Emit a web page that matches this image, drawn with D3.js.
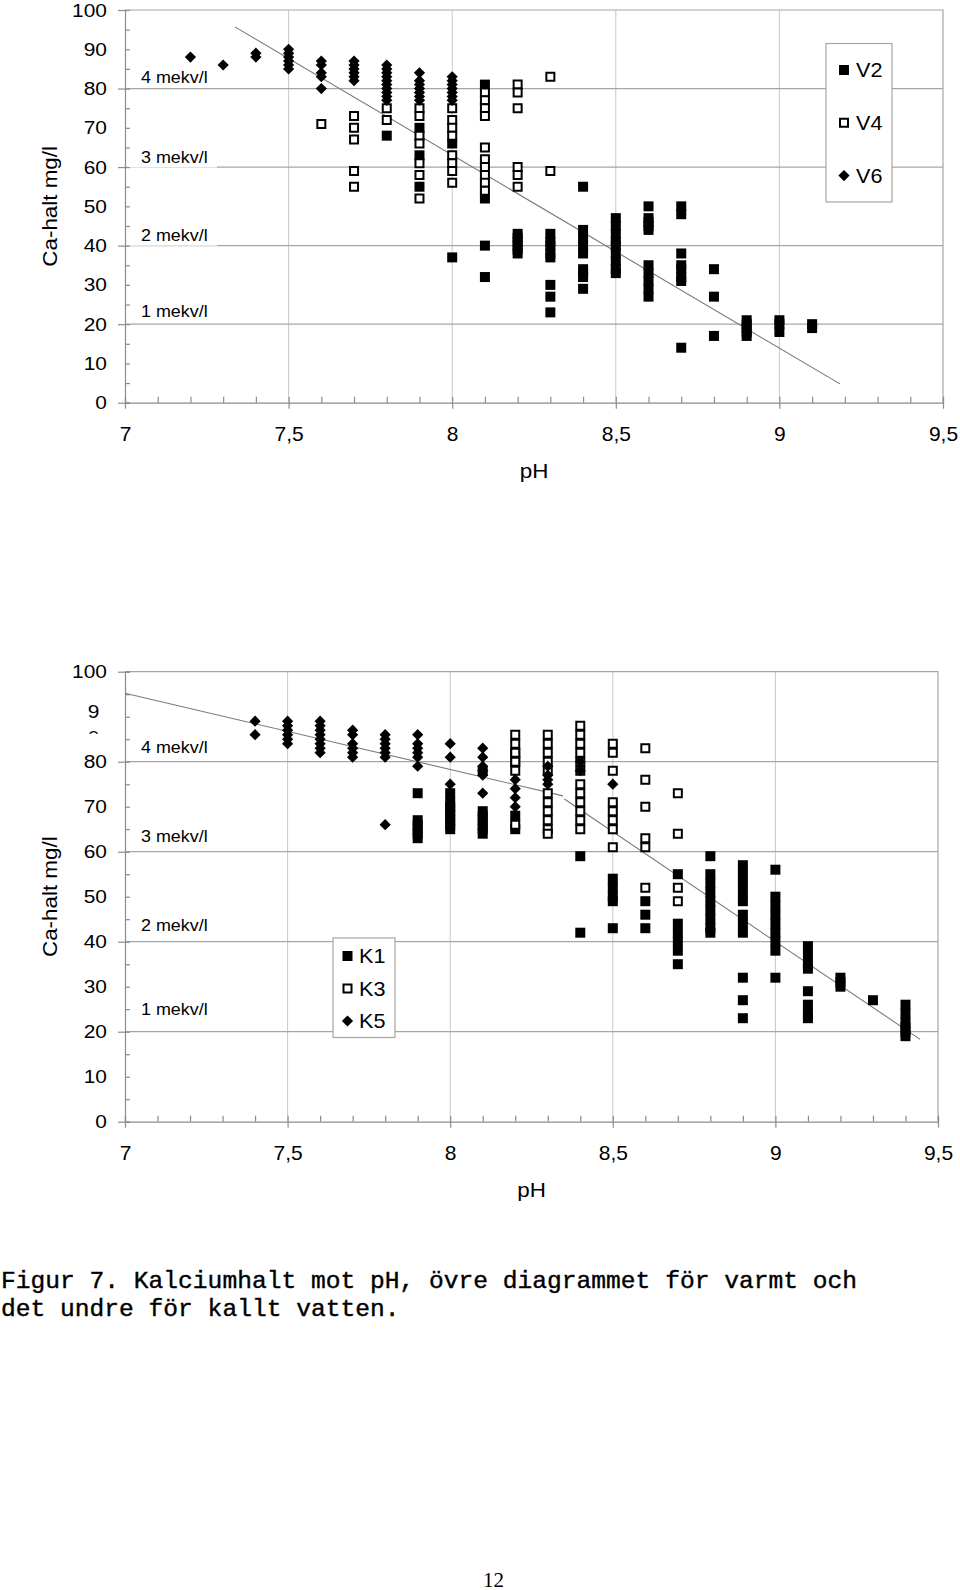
<!DOCTYPE html>
<html><head><meta charset="utf-8">
<script src="https://cdn.jsdelivr.net/npm/d3@7"></script>
<style>body{margin:0;background:#fff}svg{display:block}</style>
</head><body>
<svg id="c" width="960" height="1590"></svg>
<script>
// ---------- DATA ----------
const phTicks = [7, 7.5, 8, 8.5, 9, 9.5];
const phTickLabels = ["7", "7,5", "8", "8,5", "9", "9,5"];
const caTicks = [0, 10, 20, 30, 40, 50, 60, 70, 80, 90, 100];
const mekvLevels = [20, 40, 60, 80];
const mekvLabels = ["1 mekv/l", "2 mekv/l", "3 mekv/l", "4 mekv/l"];
const topMekvLabelCa = [23.1, 42.4, 62.3, 82.7];
const bottomMekvLabelCa = [24.8, 43.5, 63.3, 83.0];

// Upper chart (varmt vatten): [pH, [Ca values]]
const V2 = [
  [7.8, [68]], [7.9, [70, 63, 55]], [8.0, [66, 37]], [8.1, [81, 52, 40, 32]],
  [8.2, [43, 42, 41, 40, 39, 38]], [8.3, [43, 41, 40, 38, 37, 30, 27, 23]],
  [8.4, [55, 44, 42, 40, 38, 34, 33, 32, 29]], [8.5, [47, 45, 43, 41, 40, 38, 36, 34, 33]],
  [8.6, [50, 47, 46, 45, 44, 35, 33, 31, 29, 27]], [8.7, [50, 48, 38, 35, 34, 32, 31, 14]],
  [8.8, [34, 27, 17]], [8.9, [21, 20, 19, 18, 17]], [9.0, [21, 20, 18]], [9.1, [20, 19]]
];
const V4 = [
  [7.6, [71]], [7.7, [73, 70, 67, 59, 55]], [7.8, [75, 72]],
  [7.9, [75, 73, 68, 66, 61, 58, 52]], [8.0, [75, 72, 70, 68, 63, 61, 59, 56]],
  [8.1, [79, 77, 75, 73, 65, 62, 60, 58, 56, 54]], [8.2, [81, 79, 75, 60, 58, 55]],
  [8.3, [83, 59]]
];
const V6 = [
  [7.2, [88]], [7.3, [86]], [7.4, [89, 88]], [7.5, [90, 89, 88, 87, 86, 85]],
  [7.6, [87, 86, 84, 83, 80]], [7.7, [87, 86, 85, 84, 83, 82]],
  [7.8, [86, 85, 84, 83, 82, 81, 80, 79, 78, 77]], [7.9, [84, 82, 81, 80, 79, 78, 77]],
  [8.0, [83, 82, 81, 80, 79, 78, 77]]
];
const trendTopPh = [7.336, 9.185];
const trendTopCa = [95.7, 4.8];

// Lower chart (kallt vatten)
const K1 = [
  [7.9, [73, 67, 66, 65, 64, 63]], [8.0, [73, 71, 70, 69, 68, 67, 66, 65]],
  [8.1, [69, 68, 67, 66, 65, 64]], [8.2, [82, 80, 68, 65]], [8.4, [59, 42]],
  [8.5, [54, 52, 50, 49, 43]], [8.6, [49, 46, 43]], [8.7, [55, 44, 42, 40, 38, 35]],
  [8.8, [59, 55, 53, 51, 49, 47, 45, 43, 42]],
  [8.9, [57, 55, 53, 51, 49, 46, 44, 42, 32, 27, 23]],
  [9.0, [56, 50, 48, 46, 44, 42, 40, 38, 32]], [9.1, [39, 37, 35, 34, 29, 26, 24, 23]],
  [9.2, [32, 31, 30]], [9.3, [27]], [9.4, [26, 24, 22, 21, 20, 19]]
];
const K3 = [
  [8.1, [78]], [8.2, [86, 84, 82, 80, 78, 66]],
  [8.3, [86, 84, 82, 80, 78, 73, 71, 69, 67, 65, 64]],
  [8.4, [88, 86, 84, 82, 80, 78, 75, 73, 71, 69, 67, 65]],
  [8.5, [84, 82, 78, 71, 69, 67, 65, 61]], [8.6, [83, 76, 70, 63, 61, 52]],
  [8.7, [73, 64, 52, 49]]
];
const K5 = [
  [7.4, [89, 86]], [7.5, [89, 88, 87, 86, 85, 84]], [7.6, [89, 88, 87, 86, 85, 84, 83, 82]],
  [7.7, [87, 86, 84, 83, 82, 81]], [7.8, [86, 85, 84, 83, 82, 81, 66]],
  [7.9, [86, 84, 83, 82, 81, 79]], [8.0, [84, 81, 75]], [8.1, [83, 81, 79, 78, 77, 73]],
  [8.2, [76, 74, 72, 70]], [8.3, [79, 77, 76, 75]], [8.4, [80, 78]], [8.5, [75]]
];
const trendBottom1Ph = [7.0, 8.347];
const trendBottom1Ca = [95.2, 72.4];
const trendBottom2Ph = [8.351, 9.445];
const trendBottom2Ca = [71.7, 18.3];

const captionLines = ["Figur 7. Kalciumhalt mot pH, övre diagrammet för varmt och",
                      "det undre för kallt vatten."];
const pageNumber = "12";

// ---------- DRAWING ----------
const svg = d3.select("#c");
const FONT = "'Liberation Sans', Arial, sans-serif";
const SX = 1.1;
const flat = s => s.flatMap(([p, vs]) => vs.map(v => ({ph: p, ca: v})));

function stext(parent, x, y, str, o = {}) {
  const g = parent.append("g")
    .attr("transform", `translate(${x},${y})${o.rotate ? ` rotate(${o.rotate})` : ""} scale(${o.sx || SX},1)`);
  g.append("text").text(str)
    .attr("font-family", o.family || FONT)
    .attr("font-size", o.size || 19)
    .attr("text-anchor", o.anchor || "start")
    .attr("dominant-baseline", o.baseline || "central")
    .attr("fill", "#000");
  return g;
}

function marker(g, pts, x, y, type) {
  const sel = g.append("g").selectAll("path").data(pts).join("path")
    .attr("transform", d => `translate(${x(d.ph)},${y(d.ca)})`);
  if (type === "filled") sel.attr("d", "M-5,-5H5V5H-5Z").attr("fill", "#000");
  else if (type === "open") sel.attr("d", "M-4,-4H4V4H-4Z").attr("fill", "#fff").attr("stroke", "#000").attr("stroke-width", 2);
  else sel.attr("d", "M0,-5.6L5.6,0L0,5.6L-5.6,0Z").attr("fill", "#000");
}

function legendMarker(g, cx, cy, type) {
  marker(g, [{ph: 0, ca: 0}], () => cx, () => cy, type);
}

function chart(cfg) {
  const x = d3.scaleLinear().domain([7, 9.5]).range([cfg.x0, cfg.x1]);
  const y = d3.scaleLinear().domain([0, 100]).range([cfg.yb, cfg.yt]);
  const g = svg.append("g");

  // vertical gridlines
  g.append("g").selectAll("line").data(phTicks.slice(1, -1)).join("line")
    .attr("x1", d => x(d)).attr("x2", d => x(d)).attr("y1", y(0)).attr("y2", y(100))
    .attr("stroke", "#c8c8c8").attr("stroke-width", 1);
  // horizontal mekv lines
  g.append("g").selectAll("line").data(mekvLevels).join("line")
    .attr("x1", x(7)).attr("x2", x(9.5)).attr("y1", d => y(d)).attr("y2", d => y(d))
    .attr("stroke", "#a6a6a6").attr("stroke-width", 1.2);
  // border top & right
  g.append("path").attr("d", `M${x(7)},${y(100)}H${x(9.5)}V${y(0)}`)
    .attr("fill", "none").attr("stroke", "#a6a6a6").attr("stroke-width", 1.2);

  // mekv labels with white boxes
  cfg.labelCa.forEach((v, i) => {
    g.append("rect").attr("x", x(7) + 2).attr("y", y(v) - 10).attr("width", 90).attr("height", 19.5)
      .attr("fill", "#fff");
    stext(g, x(7) + 16, y(v), mekvLabels[i], {size: 16, sx: 1.12});
  });

  // axes
  const axG = g.append("g");
  const ax1 = axG.append("g").attr("transform", `translate(${x(7)},0)`)
    .call(d3.axisLeft(y).tickValues([0, 20, 40, 60, 80, 100]).tickSize(7).tickFormat(""));
  const ax2 = axG.append("g").attr("transform", `translate(${x(7)},0)`)
    .call(d3.axisRight(y).tickValues(d3.range(0, 101, 5)).tickSize(5).tickFormat(""));
  const ax3 = axG.append("g").attr("transform", `translate(0,${y(0)})`)
    .call(d3.axisBottom(x).tickValues(phTicks).tickSize(6).tickFormat(""));
  const ax4 = axG.append("g").attr("transform", `translate(0,${y(0)})`)
    .call(d3.axisTop(x).tickValues(d3.range(70, 96).map(v => v / 10)).tickSize(6).tickFormat(""));
  [ax1, ax2, ax3, ax4].forEach(a => {
    a.selectAll("path,line").attr("stroke", "#8c8c8c").attr("stroke-width", 1.2);
  });
  ax3.select(".domain").remove(); ax4.select(".domain").attr("stroke-width", 1.2);
  ax1.select(".domain").remove();

  // y tick labels
  const yl = axG.append("g").attr("transform", `translate(${x(7)},0)`)
    .call(d3.axisLeft(y).tickValues(caTicks).tickSize(0).tickPadding(16.4)
      .tickFormat(d => (cfg.broken90 && d === 90) ? "" : d));
  yl.select(".domain").remove();
  yl.selectAll("text").attr("font-family", FONT).attr("font-size", 19).attr("fill", "#000")
    .attr("transform", `scale(${SX},1)`);
  if (cfg.broken90) {
    stext(g, x(7) - 31.5, y(90) - 5, "9", {size: 19, anchor: "middle"});
    const clipId = "clip90";
    svg.append("clipPath").attr("id", clipId).append("rect")
      .attr("x", x(7) - 50).attr("y", y(90) + 12).attr("width", 40).attr("height", 5);
    stext(g.append("g").attr("clip-path", `url(#${clipId})`), x(7) - 31.5, y(90) + 21, "0", {size: 19, anchor: "middle"});
  }
  // x tick labels
  const xl = axG.append("g").attr("transform", `translate(0,${y(0)})`)
    .call(d3.axisBottom(x).tickValues(phTicks).tickSize(0).tickPadding(24)
      .tickFormat((d, i) => phTickLabels[i]));
  xl.select(".domain").remove();
  xl.selectAll("text").attr("font-family", FONT).attr("font-size", 20).attr("fill", "#000")
    .attr("transform", `scale(1.05,1)`);

  // titles
  stext(g, (x(7) + x(9.5)) / 2, y(0) + 68, "pH", {size: 20, anchor: "middle", sx: 1.12});
  stext(g, 50, (y(0) + y(100)) / 2, "Ca-halt mg/l", {size: 20, anchor: "middle", rotate: -90, sx: 1.12});

  // trend lines
  const line = d3.line().x(d => x(d[0])).y(d => y(d[1]));
  cfg.trends.forEach(([ph, ca]) => {
    g.append("path").attr("d", line(ph.map((p, i) => [p, ca[i]])))
      .attr("fill", "none").attr("stroke", "#7a7a7a").attr("stroke-width", 1.1);
  });

  // series
  cfg.series.forEach(s => marker(g, flat(s.data), x, y, s.type));

  // legend
  const L = cfg.legend;
  g.append("rect").attr("x", L.x).attr("y", L.y).attr("width", L.w).attr("height", L.h)
    .attr("fill", "#fff").attr("stroke", "#a6a6a6").attr("stroke-width", 1.2);
  cfg.series.forEach((s, i) => {
    const cy = L.y + L.first + i * L.step;
    legendMarker(g, L.x + L.mx, cy, s.type);
    stext(g, L.x + L.tx, cy, s.name, {size: 20, sx: 1.08});
  });
}

chart({
  x0: 125, x1: 943, yb: 402.7, yt: 10, labelCa: topMekvLabelCa, broken90: false,
  trends: [[trendTopPh, trendTopCa]],
  series: [{name: "V2", data: V2, type: "filled"}, {name: "V4", data: V4, type: "open"}, {name: "V6", data: V6, type: "diamond"}],
  legend: {x: 826, y: 43.5, w: 66, h: 158.5, first: 26.5, step: 52.8, mx: 18, tx: 30}
});

chart({
  x0: 125, x1: 938, yb: 1121.7, yt: 671.7, labelCa: bottomMekvLabelCa, broken90: true,
  trends: [[trendBottom1Ph, trendBottom1Ca], [trendBottom2Ph, trendBottom2Ca]],
  series: [{name: "K1", data: K1, type: "filled"}, {name: "K3", data: K3, type: "open"}, {name: "K5", data: K5, type: "diamond"}],
  legend: {x: 333, y: 938, w: 62, h: 99.5, first: 18, step: 32.5, mx: 14.5, tx: 26}
});

// caption
const cap = svg.append("g");
captionLines.forEach((t, i) => {
  cap.append("text").text(t).attr("x", 1).attr("y", 1287.5 + i * 28)
    .attr("font-family", "'Liberation Mono', 'Courier New', monospace")
    .attr("font-size", 24.6).attr("fill", "#000").attr("stroke", "#000").attr("stroke-width", 0.4)
    .attr("xml:space", "preserve");
});
svg.append("text").text(pageNumber).attr("x", 493.5).attr("y", 1586.5)
  .attr("text-anchor", "middle").attr("font-family", "'Liberation Serif', 'Times New Roman', serif")
  .attr("font-size", 21).attr("fill", "#000");
</script>
</body></html>
